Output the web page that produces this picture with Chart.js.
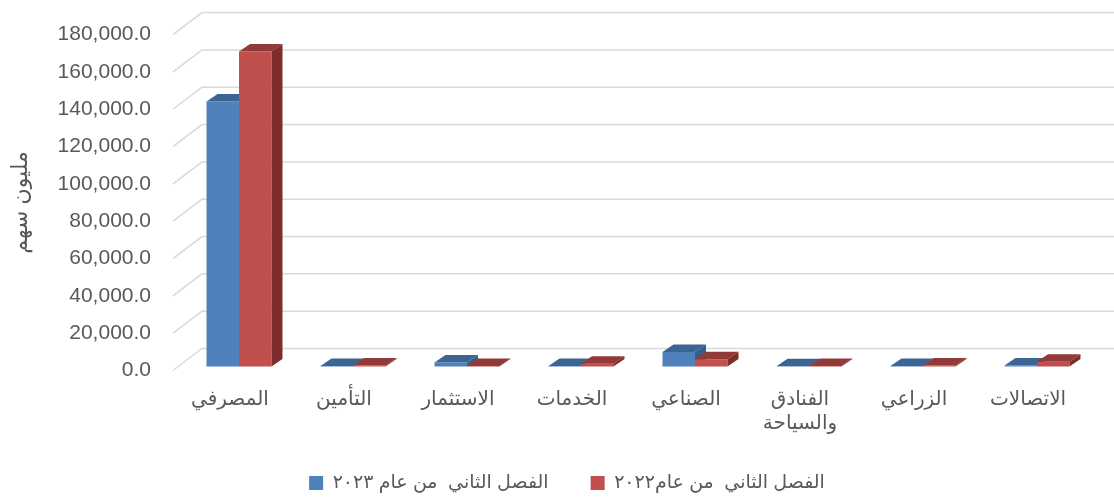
<!DOCTYPE html>
<html>
<head>
<meta charset="utf-8">
<script src="https://cdn.jsdelivr.net/npm/chart.js@4/dist/chart.umd.min.js"></script>
<style>
  html, body { margin: 0; padding: 0; background: #fff; }
  #wrap { width: 1114px; height: 497px; }
</style>
</head>
<body>
<div id="wrap"><canvas id="sharesChart"></canvas></div>
<script>
// data (million shares)
const sectors = ['المصرفي', 'التأمين', 'الاستثمار', 'الخدمات', 'الصناعي', ['الفنادق', 'والسياحة'], 'الزراعي', 'الاتصالات'];
const q2of2023 = [142000, 300, 2100, 300, 7800, 150, 300, 500];
const q2of2022 = [168800, 500, 300, 1500, 3900, 300, 600, 2500];
const seriesNames = ['الفصل الثاني  من عام ٢٠٢٣', 'الفصل الثاني  من عام٢٠٢٢'];
const yMin = 0, yMax = 180000, yStep = 20000;

const textColor = '#595959';
const latin = "'Liberation Sans', Arial, 'DejaVu Sans', sans-serif";

// pseudo 3D look: back wall grid + top/side faces of the bars
const wall = { dx: 29, dy: 22 };
const bar3d = { dx: 11, dy: 7.5, shiftX: 9, shiftY: -4 };
const faceColors = [
    { top: '#3c6594', side: '#385d8a' },
    { top: '#923a38', side: '#7d2e2c' }
];

function poly(ctx, pts, color) {
    ctx.beginPath();
    ctx.moveTo(pts[0][0], pts[0][1]);
    for (let i = 1; i < pts.length; i++) ctx.lineTo(pts[i][0], pts[i][1]);
    ctx.closePath();
    ctx.fillStyle = color;
    ctx.fill();
}

const pseudo3d = {
    id: 'pseudo3d',
    beforeDatasetsDraw(chart) {
        const ctx = chart.ctx;
        const area = chart.chartArea;
        const yScale = chart.scales.y;

        // back wall gridlines
        ctx.save();
        ctx.strokeStyle = '#d9d9d9';
        ctx.lineWidth = 1.5;
        yScale.ticks.forEach(t => {
            const py = yScale.getPixelForValue(t.value);
            ctx.beginPath();
            ctx.moveTo(area.left, py);
            ctx.lineTo(area.left + wall.dx, py - wall.dy);
            ctx.lineTo(area.right + wall.dx, py - wall.dy);
            ctx.stroke();
        });
        ctx.restore();

        // bars, drawn dataset by dataset so the faces overlap correctly
        ctx.save();
        ctx.translate(bar3d.shiftX, bar3d.shiftY);
        chart.data.datasets.forEach((ds, i) => {
            const meta = chart.getDatasetMeta(i);
            if (meta.hidden) return;
            meta.data.forEach(el => {
                const p = el.getProps(['x', 'y', 'base', 'width'], true);
                const left = p.x - p.width / 2, right = p.x + p.width / 2;
                const top = Math.min(p.y, p.base), bottom = Math.max(p.y, p.base);
                el.draw(ctx);
                poly(ctx, [[left, top], [left + bar3d.dx, top - bar3d.dy],
                    [right + bar3d.dx, top - bar3d.dy], [right, top]], faceColors[i].top);
                poly(ctx, [[right, top], [right + bar3d.dx, top - bar3d.dy],
                    [right + bar3d.dx, bottom - bar3d.dy], [right, bottom]], faceColors[i].side);
            });
        });
        ctx.restore();
        return false;
    }
};

const chartCtx = document.getElementById('sharesChart').getContext('2d');
const sharesChart = new Chart(chartCtx, {
    type: 'bar',
    data: {
        labels: sectors,
        datasets: [
            { label: seriesNames[0], data: q2of2023, backgroundColor: '#4f81bd' },
            { label: seriesNames[1], data: q2of2022, backgroundColor: '#c0504d' }
        ]
    },
    options: {
        responsive: true,
        maintainAspectRatio: false,
        animation: false,
        categoryPercentage: 0.57,
        barPercentage: 1,
        layout: { padding: { top: 30, right: 0, left: 20, bottom: 0 } },
        plugins: {
            legend: {
                position: 'bottom',
                maxHeight: 32.75,
                labels: {
                    boxWidth: 14,
                    boxHeight: 14,
                    padding: 9.25,
                    color: textColor,
                    font: { size: 19, family: latin },
                    // empty spacer item to widen the gap between the two entries
                    generateLabels(chart) {
                        const items = Chart.defaults.plugins.legend.labels.generateLabels(chart);
                        items.splice(1, 0, {
                            text: '', fillStyle: 'rgba(0,0,0,0)', strokeStyle: 'rgba(0,0,0,0)',
                            lineWidth: 0, hidden: false, datasetIndex: -1
                        });
                        return items;
                    }
                }
            },
            tooltip: { enabled: false }
        },
        scales: {
            x: {
                grid: { display: false, drawTicks: false },
                border: { display: false },
                ticks: {
                    color: textColor,
                    padding: 17,
                    maxRotation: 0,
                    autoSkip: false,
                    font: { size: 20, family: latin, lineHeight: 1.2 }
                },
                afterFit(scale) { scale.height = 93.75; }
            },
            y: {
                min: yMin,
                max: yMax,
                grid: { display: false, drawTicks: false },
                border: { display: false },
                ticks: {
                    stepSize: yStep,
                    color: textColor,
                    padding: 22,
                    font: { size: 21, family: latin },
                    callback: v => v.toLocaleString('en-US', { minimumFractionDigits: 1, maximumFractionDigits: 1 })
                },
                title: {
                    display: true,
                    text: 'مليون سهم',
                    color: textColor,
                    padding: { top: -12, bottom: 0 },
                    font: { size: 22, family: latin }
                },
                afterFit(scale) { scale.width = 153; }
            },
            // empty right gutter where the back wall runs out
            yGutter: {
                position: 'right',
                grid: { display: false, drawTicks: false },
                border: { display: false },
                ticks: { display: false },
                afterFit(scale) { scale.width = 29; }
            }
        }
    },
    plugins: [pseudo3d]
});
</script>
</body>
</html>
